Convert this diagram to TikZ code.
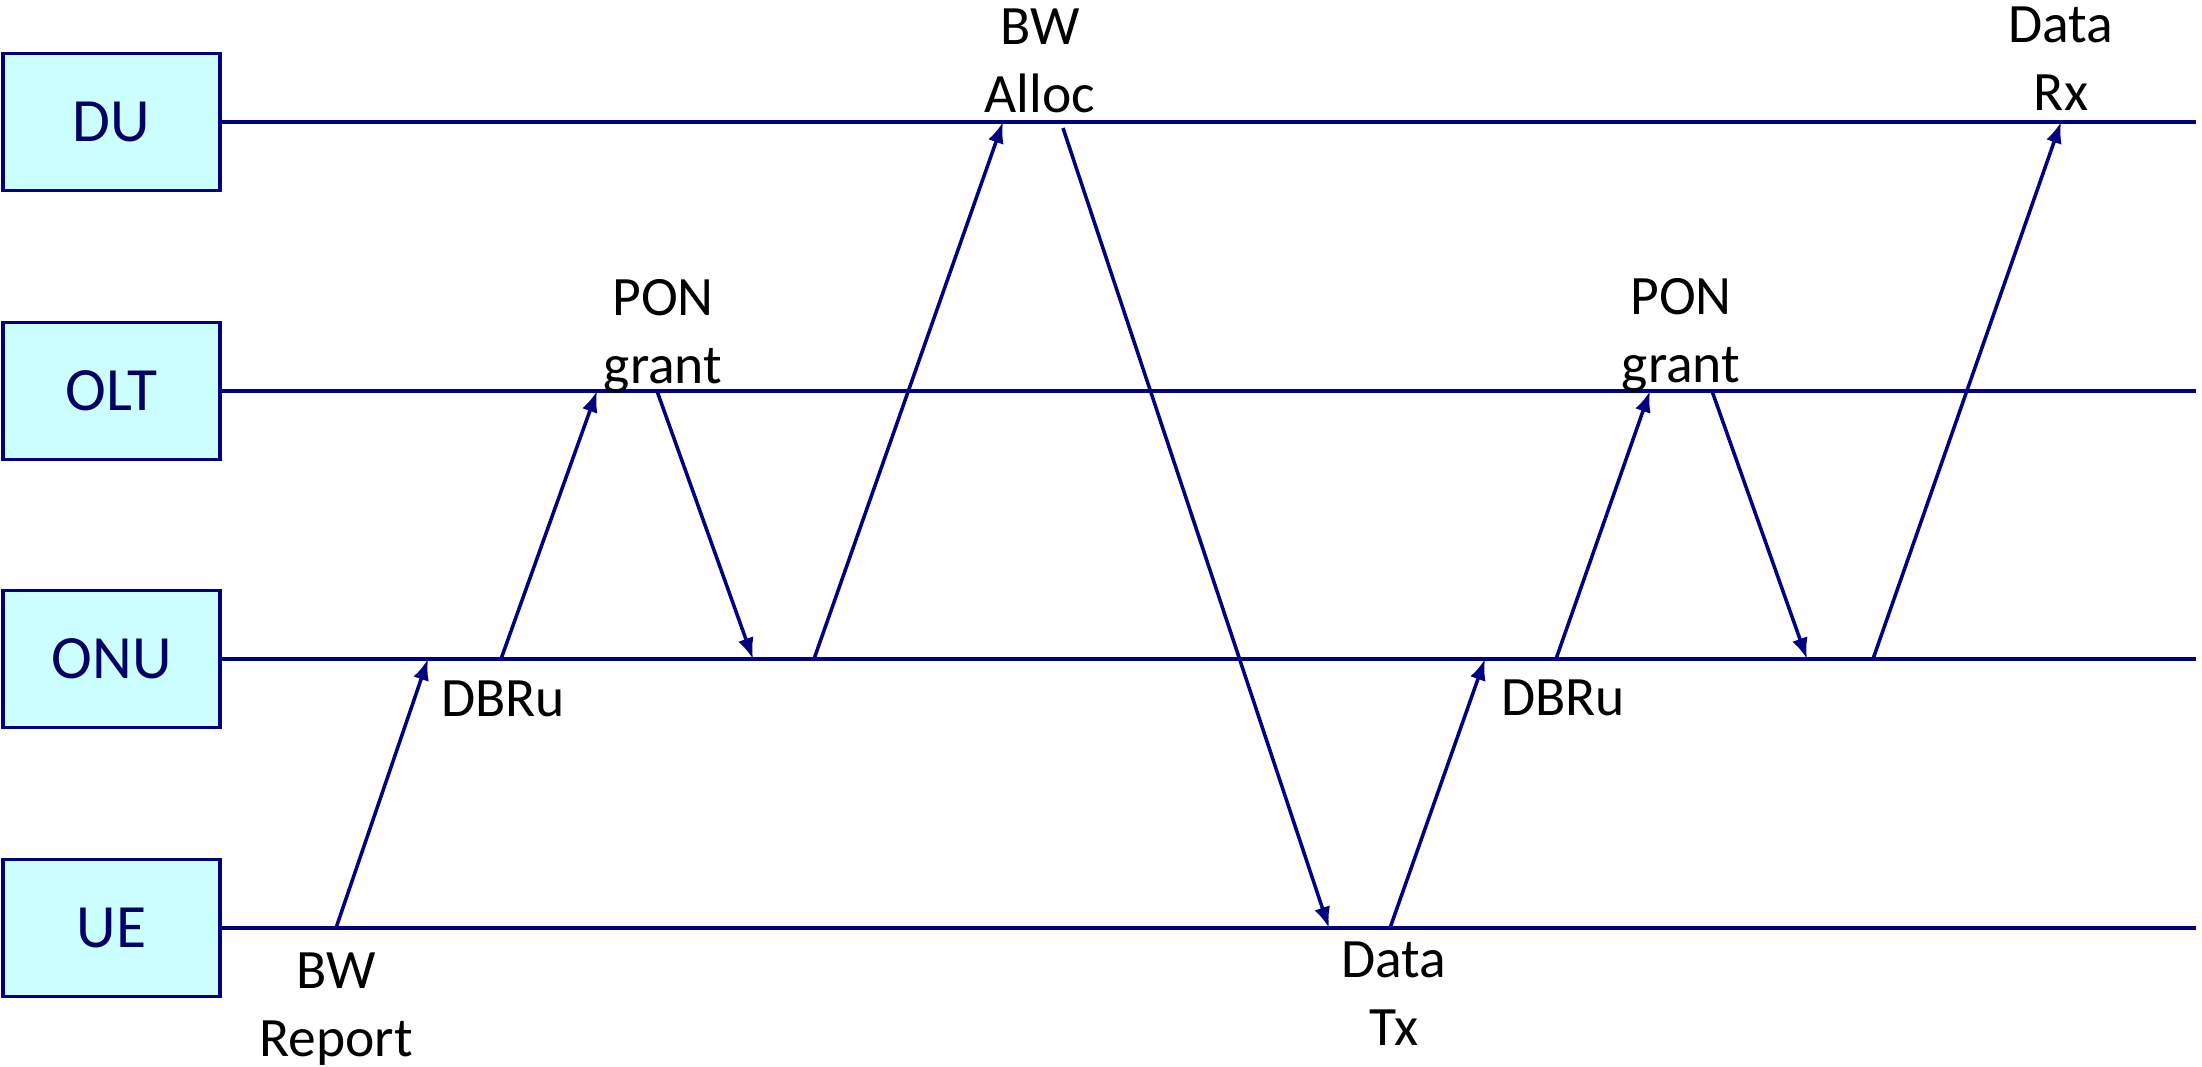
\documentclass[tikz,border=0pt]{standalone}
\usepackage{fontspec}
\setmainfont{Carlito}
\usetikzlibrary{arrows.meta}
\definecolor{navyline}{RGB}{0,0,128}
\definecolor{boxfill}{RGB}{204,255,255}
\definecolor{boxtext}{RGB}{0,0,102}
\begin{document}
\begin{tikzpicture}[x=0.01cm,y=-0.01cm,
  entity/.style={draw=navyline, line width=1.1pt, fill=boxfill, minimum width=2.17cm, minimum height=1.37cm, inner sep=0pt, text=boxtext, font=\fontsize{17.5}{21}\selectfont},
  life/.style={navyline, line width=1pt},
  msg/.style={navyline, line width=1pt, -{Latex[length=6pt,width=4.6pt]}},
  lbl/.style={align=center, font=\fontsize{15.8}{19.07}\selectfont, anchor=base, inner sep=0pt}]
\useasboundingbox (0,0) rectangle (2202,1066);
% entities
\node[entity] (du)  at (111.5,122) {DU};
\node[entity] (olt) at (111.5,391) {OLT};
\node[entity] (onu) at (111.5,659) {ONU};
\node[entity] (ue)  at (111.5,928) {UE};
% lifeline ends
\coordinate (duR)  at (2196,122);
\coordinate (oltR) at (2196,391);
\coordinate (onuR) at (2196,659);
\coordinate (ueR)  at (2196,928);
\draw[life] (du.east) -- (duR);
\draw[life] (olt.east) -- (oltR);
\draw[life] (onu.east) -- (onuR);
\draw[life] (ue.east) -- (ueR);
% message end points
\coordinate (m1s) at (336,928);  \coordinate (m1e) at (428,659);
\coordinate (m2s) at (501,659);  \coordinate (m2e) at (597,391);
\coordinate (m3s) at (657,391);  \coordinate (m3e) at (753,659);
\coordinate (m4s) at (814,659);  \coordinate (m4e) at (1003,122);
\coordinate (m5s) at (1063,128); \coordinate (m5e) at (1329,928);
\coordinate (m6s) at (1390,928); \coordinate (m6e) at (1485,659);
\coordinate (m7s) at (1556,659); \coordinate (m7e) at (1650,391);
\coordinate (m8s) at (1712,391); \coordinate (m8e) at (1807,659);
\coordinate (m9s) at (1873,659); \coordinate (m9e) at (2061,122);
\draw[msg] (m1s) -- (m1e);
\draw[msg] (m2s) -- (m2e);
\draw[msg] (m3s) -- (m3e);
\draw[msg] (m4s) -- (m4e);
\draw[msg] (m5s) -- (m5e);
\draw[msg] (m6s) -- (m6e);
\draw[msg] (m7s) -- (m7e);
\draw[msg] (m8s) -- (m8e);
\draw[msg] (m9s) -- (m9e);
% labels (anchored at the baseline of the last line)
\node[lbl] (l1) at (336,1056) {BW\\Report};
\node[lbl] (l2) at (503,716)  {DBRu};
\node[lbl] (l3) at (663,383)  {PON\\grant};
\node[lbl] (l4) at (1040,112) {BW\\Alloc};
\node[lbl] (l5) at (1394,1045) {Data\\Tx};
\node[lbl] (l6) at (1681,382) {PON\\grant};
\node[lbl] (l7) at (1563,715) {DBRu};
\node[lbl] (l8) at (2061,110) {Data\\Rx};
\end{tikzpicture}
\end{document}
